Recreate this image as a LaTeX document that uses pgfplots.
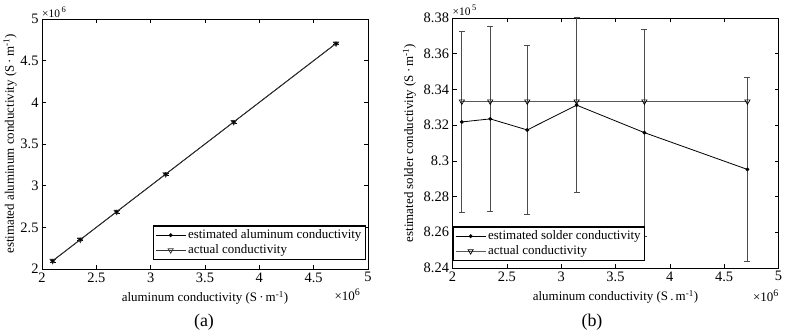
\documentclass[border=0pt]{standalone}
\usepackage{pgfplots}
\pgfplotsset{compat=1.18}
\usepackage{fontspec}
\setmainfont{Liberation Serif}
\newcommand{\fs}[1]{\fontsize{#1}{#1}\selectfont}
\pgfplotsset{
  mystyle/.style={
    scale only axis, width=326bp, height=250bp,
    anchor=south west,
    tick align=inside, xtick pos=both, ytick pos=both,
    major tick length=4bp,
    axis line style={line width=0.9bp},
    every tick/.style={black, line width=0.6bp},
    tick label style={font=\fs{14.5}},
    /pgf/number format/assume math mode=true,
    label style={font=\fs{13}},
    xmin=2, xmax=5, xtick={2,2.5,3,3.5,4,4.5,5},
    scaled ticks=false,
    legend cell align=left,
    legend style={font=\fs{13}, draw=black, line width=1.2bp, inner xsep=2bp, inner ysep=2bp, row sep=0.5bp},
    legend image code/.code={\draw[mark repeat=2,mark phase=2,##1] plot coordinates {(0bp,0bp) (15bp,0bp) (30bp,0bp)};},
    xlabel style={at={(axis description cs:0.5,-0.116)}, anchor=center},
  }
}
\begin{document}
\begin{tikzpicture}
\useasboundingbox (0,0) rectangle (788bp,334bp);
% ---------------- (a) ----------------
\begin{axis}[mystyle, name=A, at={(42bp,65bp)},
  ymin=2, ymax=5, ytick={2,2.5,3,3.5,4,4.5,5},
  xlabel={aluminum conductivity (S\,·\,m\textsuperscript{-1})},
  ylabel={estimated aluminum conductivity (S\,·\,m\textsuperscript{-1})},
  ylabel style={at={(axis description cs:-0.098,0.5)}, anchor=center},
  legend style={at={(rel axis cs:0.994,0.036)}, anchor=south east},
]
\addplot[black, line width=0.8bp, mark=*, mark size=1.5bp, mark options={solid},
  error bars/.cd, y dir=both, y explicit,
  error bar style={black, line width=0.8bp},
  error mark options={black, rotate=90, mark size=3bp, line width=0.8bp}]
  coordinates {
  (2.098,2.098) +- (0,0.015)
  (2.353,2.353) +- (0,0.015)
  (2.687,2.687) +- (0,0.015)
  (3.138,3.138) +- (0,0.015)
  (3.764,3.764) +- (0,0.015)
  (4.706,4.706) +- (0,0.015)
};
\addlegendentry{estimated aluminum conductivity}
\addplot[black!80, line width=0.8bp, mark=triangle, mark size=3bp, mark options={rotate=180, solid, line width=0.7bp}]
  coordinates {
  (2.098,2.098) (2.353,2.353) (2.687,2.687) (3.138,3.138) (3.764,3.764) (4.706,4.706)
};
\addlegendentry{actual conductivity}
\end{axis}
\node[anchor=south west, inner sep=0pt, font=\fs{11.5}] at ([yshift=1.5bp]A.north west) {×10\raisebox{4.5bp}{\fs{8.5}\,6}};
\node[anchor=north east, inner sep=0pt, font=\fs{13}] at ([xshift=-8bp, yshift=-20bp]A.south east) {×10\raisebox{5bp}{\fs{10}6}};
% ---------------- (b) ----------------
\begin{axis}[mystyle, name=B, at={(452.5bp,66bp)},
  ymin=8.24, ymax=8.38, ytick={8.24,8.26,8.28,8.30,8.32,8.34,8.36,8.38},
  yticklabel style={/pgf/number format/fixed, /pgf/number format/precision=2},
  xlabel={aluminum conductivity (S\,.\,m\textsuperscript{-1})},
  ylabel={estimated solder conductivity (S\,·\,m\textsuperscript{-1})},
  ylabel style={at={(axis description cs:-0.132,0.5)}, anchor=center},
  legend style={at={(rel axis cs:0,0.028)}, anchor=south west},
]
\addplot[black, line width=0.8bp, mark=*, mark size=1.5bp, mark options={solid},
  error bars/.cd, y dir=both, y explicit,
  error bar style={black!70, line width=1bp},
  error mark options={black!70, rotate=90, mark size=3bp, line width=1bp}]
  coordinates {
  (2.086,8.3218) +- (0,0.0506)
  (2.347,8.3235) +- (0,0.0516)
  (2.688,8.3173) +- (0,0.0471)
  (3.142,8.3312) +- (0,0.0489)
  (3.766,8.3158) +- (0,0.0580)
  (4.714,8.2952) +- (0,0.0513)
};
\addlegendentry{estimated solder conductivity}
\addplot[black!65, line width=1.1bp, mark=triangle, mark size=3bp, mark options={rotate=180, solid, black, line width=0.7bp}]
  coordinates {
  (2.086,8.3333) (2.347,8.3333) (2.688,8.3333) (3.142,8.3333) (3.766,8.3333) (4.714,8.3333)
};
\addlegendentry{actual conductivity}
\end{axis}
\node[anchor=south west, inner sep=0pt, font=\fs{11.5}] at ([yshift=2.5bp]B.north west) {×10\raisebox{4.5bp}{\fs{8.5}\,5}};
\node[anchor=north east, inner sep=0pt, font=\fs{13}] at ([yshift=-22bp]B.south east) {×10\raisebox{5bp}{\fs{10}6}};
\node[font=\fs{18}] at (204bp,12bp) {(a)};
\node[font=\fs{18}] at (592bp,12bp) {(b)};
\end{tikzpicture}
\end{document}
